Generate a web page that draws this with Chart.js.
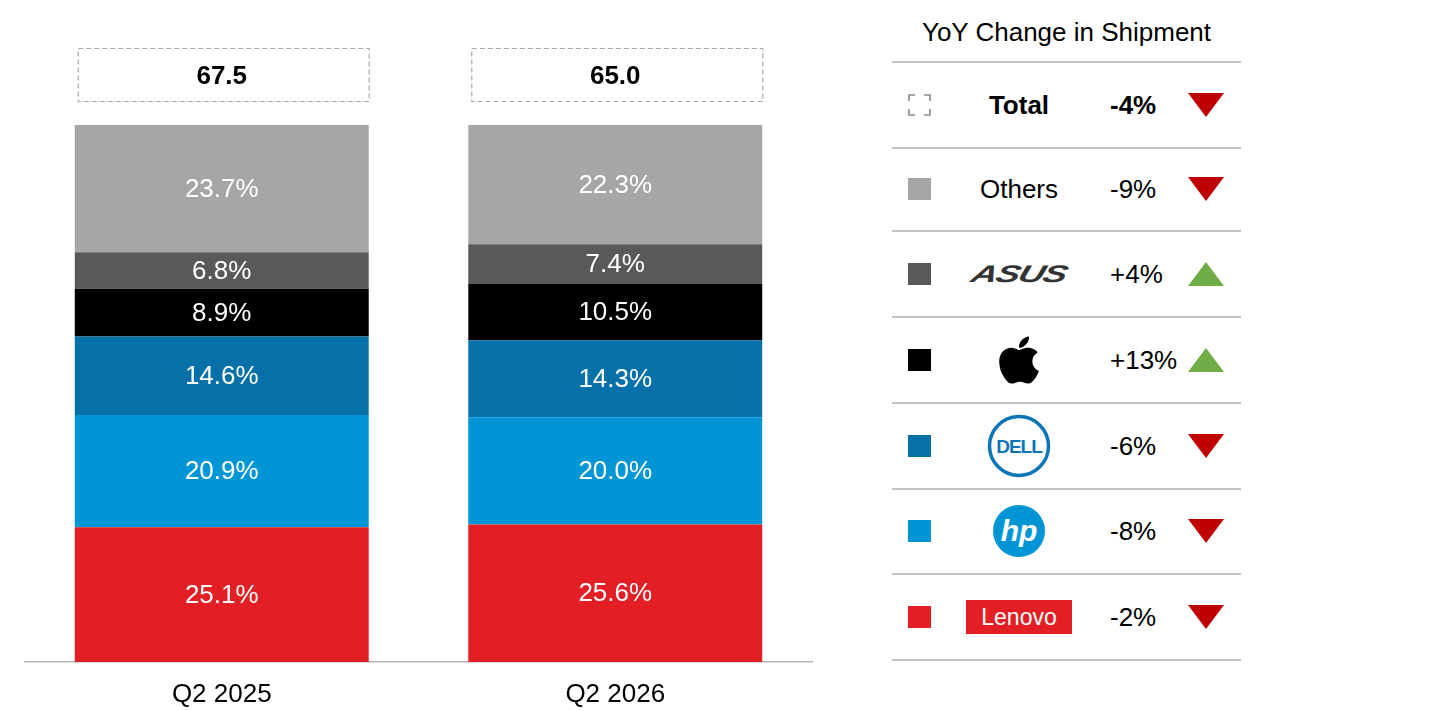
<!DOCTYPE html>
<html>
<head>
<meta charset="utf-8">
<script src="https://cdn.jsdelivr.net/npm/chart.js@4.4.1/dist/chart.umd.min.js"></script>
<style>
  html, body { margin:0; padding:0; background:#fff; width:1440px; height:711px; overflow:hidden; font-family:"Liberation Sans", Arial, sans-serif; }
  #chartWrap { position:absolute; left:0; top:0; width:830px; height:711px; }
  #panel { position:absolute; left:892px; top:0; width:349px; }
  #panelTitle { position:absolute; left:0; width:349px; top:17px; text-align:center; font-size:26px; color:#000; }
  .row { position:absolute; left:0; width:349px; height:85.7px; border-bottom:2px solid #c4c4c4; box-sizing:border-box; }
  .row.first { border-top:2px solid #c4c4c4; }
  .mk { position:absolute; left:16px; width:23px; height:22px; top:50%; margin-top:-11px; }
  .nm { position:absolute; left:127px; top:50%; transform:translate(-50%,-50%); line-height:1; white-space:nowrap; }
  .nm > * { display:block; }
  .pct { position:absolute; left:218px; top:50%; transform:translateY(-50%); font-size:26px; color:#000; line-height:1; }
  .tri { position:absolute; left:296px; top:50%; margin-top:-12px; }
</style>
</head>
<body>
<div id="chartWrap"><canvas id="c"></canvas></div>
<div id="panel"><div id="panelTitle">YoY Change in Shipment</div></div>
<script>
// ---- data ----
const categories = ['Q2 2025', 'Q2 2026'];
const totals = [67.5, 65.0];
const lenovoShare = [25.1, 25.6];
const hpShare = [20.9, 20.0];
const dellShare = [14.6, 14.3];
const appleShare = [8.9, 10.5];
const asusShare = [6.8, 7.4];
const othersShare = [23.7, 22.3];
const panelRows = ['Total', 'Others', 'ASUS', 'Apple', 'Dell', 'HP', 'Lenovo'];
const yoyChange = [-4, -9, 4, 13, -6, -8, -2];

// ---- styles ----
const colors = { Lenovo:'#E31F25', HP:'#0096D6', Dell:'#0670A8', Apple:'#000000', ASUS:'#595959', Others:'#A6A6A6' };
const FONT = '"Liberation Sans", Arial, sans-serif';

const seriesList = [
  ['Lenovo', lenovoShare], ['HP', hpShare], ['Dell', dellShare],
  ['Apple', appleShare], ['ASUS', asusShare], ['Others', othersShare]
];

const segLabels = {
  id: 'segLabels',
  afterDatasetsDraw(chart) {
    const ctx = chart.ctx;
    ctx.save();
    ctx.fillStyle = '#fff';
    ctx.font = '26px ' + FONT;
    ctx.textAlign = 'center';
    ctx.textBaseline = 'middle';
    chart.data.datasets.forEach((ds, di) => {
      const meta = chart.getDatasetMeta(di);
      meta.data.forEach((el, i) => {
        const v = ds.data[i];
        ctx.fillText(v.toFixed(1) + '%', el.x, (el.y + el.base) / 2 + 1);
      });
    });
    ctx.restore();
  }
};

const totalBoxes = {
  id: 'totalBoxes',
  afterDraw(chart) {
    const ctx = chart.ctx;
    const meta = chart.getDatasetMeta(0);
    const top = chart.chartArea.top;
    ctx.save();
    meta.data.forEach((el, i) => {
      const l = el.x - el.width / 2 + 3, r = el.x + el.width / 2;
      const t = top - 77, b = top - 24;
      ctx.setLineDash([5, 3]);
      ctx.strokeStyle = '#a8a8a8';
      ctx.lineWidth = 1.2;
      ctx.strokeRect(l + 0.5, t + 0.5, r - l, b - t);
      ctx.setLineDash([]);
      ctx.fillStyle = '#000';
      ctx.font = 'bold 26px ' + FONT;
      ctx.textAlign = 'center';
      ctx.textBaseline = 'middle';
      ctx.fillText(totals[i].toFixed(1), el.x, (t + b) / 2 + 2);
    });
    ctx.restore();
  }
};

new Chart(document.getElementById('c'), {
  type: 'bar',
  data: {
    labels: categories,
    datasets: seriesList.map(([name, vals]) => ({
      label: name, data: vals, backgroundColor: colors[name],
      borderWidth: 0, barPercentage: 0.747, categoryPercentage: 1.0
    }))
  },
  options: {
    responsive: true, maintainAspectRatio: false, animation: false,
    layout: { padding: { left: 25, right: 18, top: 125, bottom: 0 } },
    plugins: { legend: { display: false }, tooltip: { enabled: false } },
    scales: {
      x: {
        stacked: true,
        grid: { display: false, drawTicks: false },
        border: { display: true, color: '#b4b4b4', width: 1.5 },
        ticks: { color: '#000', font: { family: FONT, size: 26 }, padding: 17 },
        afterFit(s) { s.height = 49; }
      },
      y: { stacked: true, display: false, min: 0, max: 100 }
    }
  },
  plugins: [segLabels, totalBoxes]
});

// ---- right panel ----
const panel = document.getElementById('panel');
const markerColors = { Total:null, Others:colors.Others, ASUS:colors.ASUS, Apple:colors.Apple, Dell:colors.Dell, HP:colors.HP, Lenovo:colors.Lenovo };
const rowH = 600 / 7;
const applePath = 'M318.7 268.7c-.2-36.7 16.4-64.4 50-84.8-18.8-26.9-47.2-41.7-84.7-44.6-35.5-2.8-74.3 20.7-88.5 20.7-15 0-49.4-19.7-76.4-19.7C63.3 141.2 4 184.8 4 273.5q0 39.3 14.4 81.2c12.8 36.7 59 126.7 107.2 125.2 25.2-.6 43-17.9 75.8-17.9 31.8 0 48.3 17.9 76.4 17.9 48.6-.7 90.4-82.5 102.6-119.3-65.2-30.7-61.7-90-61.7-91.9zm-56.6-164.2c27.3-32.4 24.8-61.9 24-72.5-24.1 1.4-52 16.4-67.9 34.9-17.5 19.8-27.8 44.3-25.6 71.9 26.1 2 49.9-11.4 69.5-34.3z';

function nameHTML(n) {
  switch (n) {
    case 'Total': return '<span style="font-size:26px;font-weight:bold;">Total</span>';
    case 'Others': return '<span style="font-size:26px;">Others</span>';
    case 'ASUS': return '<span style="font-size:24px;font-weight:bold;font-style:italic;color:#333;transform:scaleX(1.5) skewX(-12deg);letter-spacing:-1px;">ASUS</span>';
    case 'Apple': return '<svg width="42" height="54" viewBox="0 0 384 512" aria-label="Apple"><path d="' + applePath + '" fill="#000"/></svg>';
    case 'Dell': return '<svg width="64" height="64" viewBox="0 0 64 64" aria-label="Dell"><circle cx="32" cy="32" r="29.5" fill="none" stroke="#0A76B8" stroke-width="3.5"/><text x="32" y="39" text-anchor="middle" font-family="Liberation Sans, Arial" font-weight="bold" font-size="19" fill="#0A76B8" letter-spacing="-1">DELL</text></svg>';
    case 'HP': return '<svg width="54" height="54" viewBox="0 0 54 54" aria-label="HP"><circle cx="27" cy="27" r="26" fill="#0096D6"/><text x="27" y="37" text-anchor="middle" font-family="Liberation Sans, Arial" font-weight="bold" font-style="italic" font-size="30" fill="#fff">hp</text></svg>';
    case 'Lenovo': return '<span style="background:#E31F25;color:#fff;width:106px;height:34px;line-height:34px;text-align:center;font-size:23px;">Lenovo</span>';
  }
}

panelRows.forEach((n, i) => {
  const row = document.createElement('div');
  row.className = 'row' + (i === 0 ? ' first' : '');
  row.style.top = (61 + i * rowH) + 'px';
  if (i === 0) row.style.height = (rowH + 2) + 'px';
  const mc = markerColors[n];
  const marker = mc
    ? '<div class="mk" style="background:' + mc + '"></div>'
    : '<svg class="mk" width="23" height="22" viewBox="0 0 23 22"><path d="M1 7V1H7 M16 1H22V7 M22 15V21H16 M7 21H1V15" fill="none" stroke="#8a8a8a" stroke-width="1.6"/></svg>';
  const v = yoyChange[i];
  const up = v > 0;
  const tri = up
    ? '<svg class="tri" width="36" height="24"><polygon points="0,24 36,24 18,0" fill="#70AD47"/></svg>'
    : '<svg class="tri" width="36" height="24"><polygon points="0,0 36,0 18,24" fill="#C00000"/></svg>';
  const pctTxt = (up ? '+' : '-') + Math.abs(v) + '%';
  row.innerHTML = marker +
    '<div class="nm">' + nameHTML(n) + '</div>' +
    '<div class="pct" style="' + (n === 'Total' ? 'font-weight:bold;' : '') + '">' + pctTxt + '</div>' + tri;
  panel.appendChild(row);
});
</script>
</body>
</html>
